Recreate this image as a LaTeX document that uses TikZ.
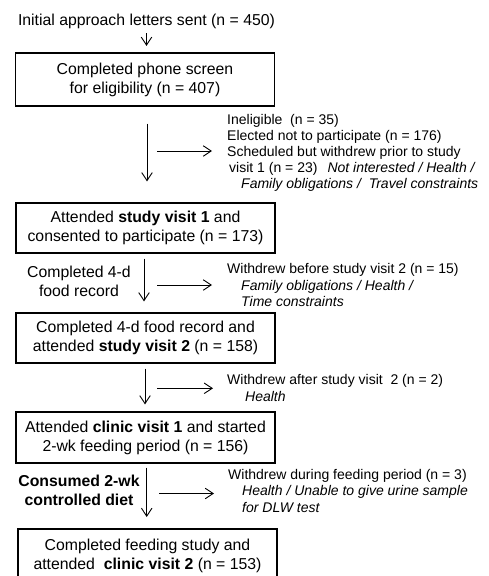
\documentclass[tikz,border=0pt]{standalone}
\usepackage{fontspec}
\setmainfont{Liberation Sans}
\usetikzlibrary{arrows.meta}
\begin{document}
\begin{tikzpicture}[x=1pt,y=-1pt,
  box/.style={draw, line width=1.2pt, inner sep=0pt, minimum width=259pt, align=center,
    font=\fontsize{15.8}{19}\selectfont},
  lbl/.style={inner sep=0pt, align=center, anchor=base, font=\fontsize{15.8}{19}\selectfont},
  side/.style={inner sep=0pt, align=left, anchor=base west},
  arr/.style={-{Straight Barb[length=8pt,width=10.5pt]}, line width=0.9pt}]
\useasboundingbox (0,0) rectangle (489,576);

\node[lbl] (top) at (146.5,25) {Initial approach letters sent (n = 450)};

\node[box, minimum height=53pt] (box1) at (145,79.5) {Completed phone screen\\for eligibility (n = 407)};
\node[box, minimum height=50pt] (box2) at (145.5,228) {Attended \textbf{study visit 1} and\\consented to participate (n = 173)};
\node[box, minimum height=50pt] (box3) at (145.5,338) {Completed 4-d food record and\\attended \textbf{study visit 2} (n = 158)};
\node[box, minimum height=51pt] (box4) at (145.5,437.5) {Attended \textbf{clinic visit 1} and started\\2-wk feeding period (n = 156)};
\node[box, line width=2pt, minimum height=54pt] (box5) at (147.5,556) {Completed feeding study and\\attended\ \ \textbf{clinic visit 2} (n = 153)};

% base anchor = baseline of the last line
\node[lbl] (l2) at (79,296) {Completed 4-d\\food record};
\node[lbl, font=\fontsize{15.8}{19.5}\selectfont\bfseries] (l4) at (79,505.5) {Consumed 2-wk\\controlled diet};

\node[side, font=\fontsize{14}{16}\selectfont] (r1) at (227,188.5) {Ineligible\ \ (n = 35)\\
Elected not to participate (n = 176)\\
Scheduled but withdrew prior to study\\
\hspace*{2pt}visit 1 (n = 23)\hspace{10pt}\textit{Not interested / Health /}\\
\hspace*{14pt}\textit{Family obligations /\ \ Travel constraints}};
\node[side, font=\fontsize{14}{16.5}\selectfont] (r2) at (227,306.5) {Withdrew before study visit 2 (n = 15)\\
\hspace*{14pt}\textit{Family obligations / Health /}\\
\hspace*{14pt}\textit{Time constraints}};
\node[side, font=\fontsize{14}{17}\selectfont] (r3) at (227,401.5) {Withdrew after study visit\ \ 2 (n = 2)\\
\hspace*{18pt}\textit{Health}};
\node[side, font=\fontsize{14}{16.7}\selectfont] (r4) at (228,512.4) {Withdrew during feeding period (n = 3)\\
\hspace*{14pt}\textit{Health / Unable to give urine sample}\\
\hspace*{14pt}\textit{for DLW test}};

% vertical connectors
\draw[arr, shorten <=5pt, shorten >=6.5pt] (top.south) -- (top.south |- box1.north);
\draw[arr, shorten <=17pt, shorten >=21pt] ([xshift=2pt]box1.south) -- ([xshift=2pt]box1.south |- box2.north);
\draw[arr, shorten <=5pt, shorten >=11pt] ([xshift=-1.5pt]box2.south) -- ([xshift=-1.5pt]box2.south |- box3.north);
\draw[arr, shorten <=5pt, shorten >=7pt] ([xshift=-0.5pt]box3.south) -- ([xshift=-0.5pt]box3.south |- box4.north);
\draw[arr, shorten <=4pt, shorten >=11pt] ([xshift=1.2pt]box4.south) -- ([xshift=1.2pt]box4.south |- box5.north);

% horizontal connectors
\coordinate (h1) at (157,151);
\coordinate (h2) at (157,285);
\coordinate (h3) at (157,388.3);
\coordinate (h4) at (159,493.5);
\draw[arr, shorten >=15pt] (h1) -- (h1 -| r1.west);
\draw[arr, shorten >=15pt] (h2) -- (h2 -| r2.west);
\draw[arr, shorten >=14pt] (h3) -- (h3 -| r3.west);
\draw[arr, shorten >=14pt] (h4) -- (h4 -| r4.west);
\end{tikzpicture}
\end{document}
